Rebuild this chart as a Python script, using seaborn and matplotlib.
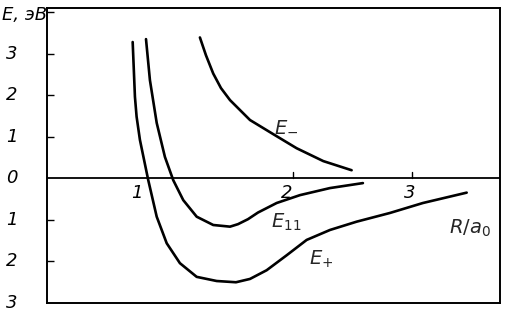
import matplotlib
matplotlib.use("Agg")
import matplotlib.pyplot as plt
import seaborn as sns
import pandas as pd

# Data (R/a0, E in eV)
r_plus = [0.653, 0.672, 0.686, 0.714, 0.784, 0.855, 0.939, 1.050, 1.191, 1.359, 1.521, 1.639, 1.779, 1.947, 2.115, 2.311, 2.535, 2.815, 3.092, 3.460]
e_plus = [3.28, 1.96, 1.48, 0.92, -0.05, -0.93, -1.57, -2.05, -2.38, -2.48, -2.51, -2.43, -2.22, -1.86, -1.49, -1.25, -1.05, -0.84, -0.60, -0.35]

r_11 = [0.765, 0.798, 0.855, 0.924, 0.994, 1.078, 1.191, 1.330, 1.471, 1.538, 1.622, 1.706, 1.863, 2.059, 2.311, 2.588]
e_11 = [3.35, 2.36, 1.33, 0.51, -0.05, -0.53, -0.93, -1.13, -1.17, -1.11, -0.99, -0.83, -0.60, -0.41, -0.24, -0.12]

r_minus = [1.218, 1.269, 1.330, 1.395, 1.471, 1.639, 1.834, 2.031, 2.255, 2.493]
e_minus = [3.39, 2.96, 2.52, 2.17, 1.88, 1.40, 1.06, 0.72, 0.41, 0.19]

y_ticks = [3, 2, 1, 0, -1, -2, -3]
y_tick_labels = ["3", "2", "1", "0", "1", "2", "3"]
x_tick_labels = ["1", "2", "3"]
x_label_pos = [0.69, 1.95, 2.98]

sns.set_style("white")
plt.rcParams['font.family'] = ['DejaVu Sans']
plt.rcParams['mathtext.fontset'] = 'dejavusans'

fig = plt.figure(figsize=(5.15, 3.18), dpi=100)
ax = fig.add_axes([47/515, 1-303/318, (500-47)/515, (303-8)/318])

df = pd.concat([
    pd.DataFrame({"R": r_plus, "E": e_plus, "curve": "E+"}),
    pd.DataFrame({"R": r_11, "E": e_11, "curve": "E11"}),
    pd.DataFrame({"R": r_minus, "E": e_minus, "curve": "E-"}),
])
for name, g in df.groupby("curve"):
    sns.lineplot(data=g, x="R", y="E", sort=False, color="black", lw=1.9, ax=ax,
                 legend=False, estimator=None)
for line in ax.get_lines():
    line.set_solid_joinstyle("round")
    line.set_solid_capstyle("round")

ax.set_xlim(-0.067, 3.74)
ax.set_ylim(-3.01, 4.10)
ax.axhline(0, color="black", lw=1.3)
for s in ax.spines.values():
    s.set_color("black")
    s.set_linewidth(1.4)

ax.set_yticks([4, 3, 2, 1, -1, -2])
ax.set_yticklabels([])
ax.tick_params(axis="y", direction="in", length=5, width=1, left=True, color="black")
ax.set_xticks([])
ax.set_xlabel("")
ax.set_ylabel("")

# upward tick marks on the zero line
for xt in [2.0, 3.0]:
    ax.plot([xt, xt], [0, 0.14], color="black", lw=1)

tfont = dict(fontsize=13, style="italic", color="black")
for yv, lab in zip(y_ticks, y_tick_labels):
    ax.text(-0.36, yv, lab, ha="center", va="center", clip_on=False, **tfont)
for xv, lab in zip(x_label_pos, x_tick_labels):
    ax.text(xv, -0.35, lab, ha="center", va="center", **tfont)

fig.text(25/515, 1-15/318, "E, эВ", ha="center", va="center", **tfont)
ax.text(1.94, 1.27, r"$E_{-}$", ha="center", va="center", fontsize=14)
ax.text(1.94, -1.07, r"$E_{11}$", ha="center", va="center", fontsize=14)
ax.text(2.24, -1.97, r"$E_{+}$", ha="center", va="center", fontsize=14)
ax.text(3.49, -1.20, r"$R/a_0$", ha="center", va="center", fontsize=14)

fig.savefig("out.png", dpi=100)
